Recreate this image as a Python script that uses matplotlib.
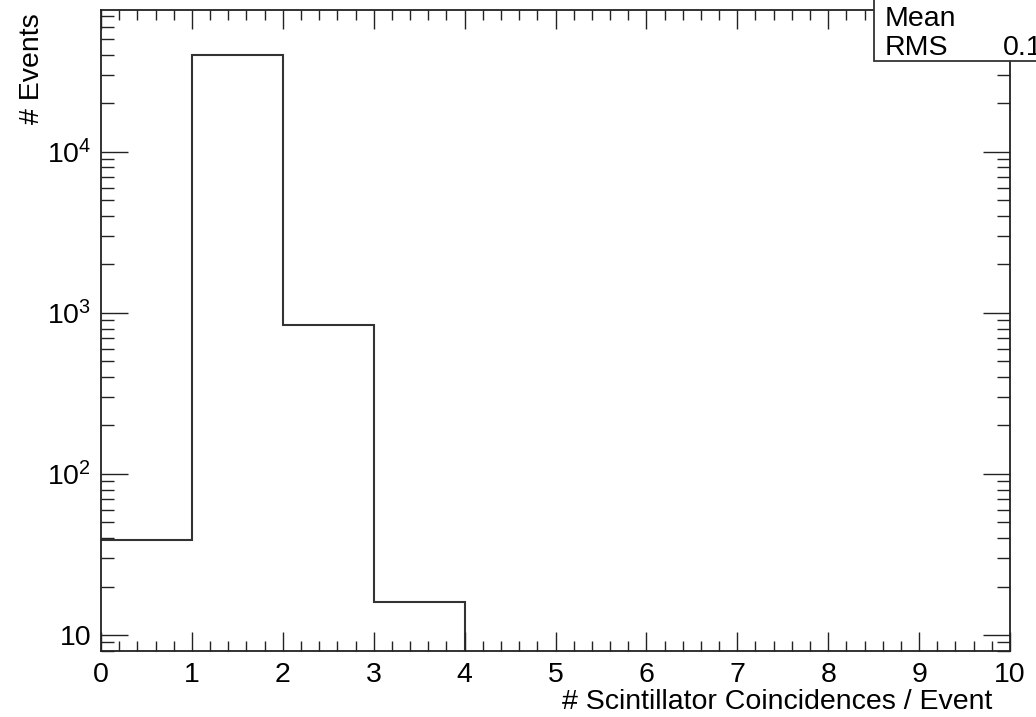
import numpy as np
import matplotlib
matplotlib.use("Agg")
import matplotlib.pyplot as plt
from matplotlib.patches import Rectangle
from matplotlib.ticker import MultipleLocator, LogLocator, FuncFormatter, NullFormatter

plt.rcParams["font.family"] = ["Liberation Sans", "DejaVu Sans"]
plt.rcParams["mathtext.fontset"] = "custom"
plt.rcParams["mathtext.rm"] = "Liberation Sans"
plt.rcParams["mathtext.it"] = "Liberation Sans:italic"

# histogram contents (one bin per coincidence count)
bin_edges = [0, 1, 2, 3, 4, 5, 6, 7, 8, 9, 10]
counts = [39, 40000, 840, 16, 0, 0, 0, 0, 0, 0]

x_title = "# Scintillator Coincidences / Event"
y_title = "# Events"
stat_names = ["Mean", "RMS"]
rms_text = "0.1"

W, H = 1036, 717
fig = plt.figure(figsize=(W / 100, H / 100), dpi=100)
ax = fig.add_axes([101 / W, (H - 651) / H, (1010 - 101) / W, (651 - 10) / H])

ax.stairs(counts, bin_edges, baseline=None, color="#333333", linewidth=1.5)

ax.set_yscale("log", nonpositive="clip")
ax.set_xlim(0, 10)
ax.set_ylim(7.96, 76000)

FS = 20.5
ax.xaxis.set_major_locator(MultipleLocator(1))
ax.xaxis.set_minor_locator(MultipleLocator(0.2))
ax.yaxis.set_major_locator(LogLocator(base=10, numticks=10))
ax.yaxis.set_minor_locator(LogLocator(base=10, subs=np.arange(2, 10), numticks=20))
ax.yaxis.set_minor_formatter(NullFormatter())


def log_label(v, pos):
    e = int(round(np.log10(v)))
    if e == 1:
        return "10"
    return "$10^{%d}$" % e


ax.yaxis.set_major_formatter(FuncFormatter(log_label))

ax.tick_params(axis="x", which="major", direction="in", length=13.7, width=1.0,
               top=True, bottom=True, labelsize=FS, pad=8, color="#222222")
ax.tick_params(axis="x", which="minor", direction="in", length=7.2, width=1.0,
               top=True, bottom=True, color="#222222")
ax.tick_params(axis="y", which="major", direction="in", length=19.4, width=1.0,
               left=True, right=True, labelsize=FS, pad=7, color="#222222")
ax.tick_params(axis="y", which="minor", direction="in", length=9.4, width=1.0,
               left=True, right=True, color="#222222")
for s in ax.spines.values():
    s.set_linewidth(1.3)
    s.set_color("#222222")

ax.set_xlabel(x_title, fontsize=FS, loc="right")
ax.xaxis.set_label_coords(0.981, -0.059)
ax.set_ylabel(y_title, fontsize=FS, loc="top")
ax.yaxis.set_label_coords(-0.062, 0.995)

# stats box (cut by the canvas edge, as in the original)
box = Rectangle((874 / W, (H - 61) / H), 0.5, 0.5, transform=fig.transFigure,
                facecolor="white", edgecolor="#333333", linewidth=1.3, zorder=10)
fig.add_artist(box)
for i, name in enumerate(stat_names):
    fig.text(885 / W, (H - 26 - 29 * i) / H, name, fontsize=FS, va="baseline",
             ha="left", zorder=11)
fig.text(1003 / W, (H - 55) / H, rms_text, fontsize=FS, va="baseline", ha="left",
         zorder=11)

fig.savefig("out.png", dpi=100)
